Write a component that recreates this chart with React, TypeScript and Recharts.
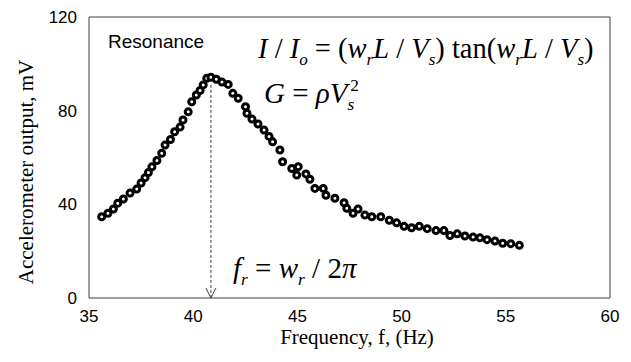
import React from 'react'
import { ReferenceArea, ReferenceLine, Scatter, ScatterChart, XAxis, YAxis } from 'recharts'

const freq = [
  35.61, 35.91, 36.17, 36.38, 36.65, 36.97, 37.29, 37.5, 37.69, 37.85, 38.02, 38.26, 38.49, 38.65,
  38.91, 39.11, 39.37, 39.51, 39.76, 39.93, 40.15, 40.33, 40.48, 40.65, 40.85, 41.11, 41.38, 41.68,
  41.9, 42.16, 42.51, 42.58, 42.82, 43.11, 43.4, 43.64, 43.81, 44.16, 44.29, 44.73, 44.97, 45.04,
  45.41, 45.6, 45.84, 46.24, 46.37, 46.8, 47.24, 47.37, 47.67, 47.91, 48.24, 48.57, 49.0, 49.41,
  49.76, 50.12, 50.48, 50.85, 51.23, 51.65, 52.03, 52.32, 52.67, 53.04, 53.43, 53.76, 54.1, 54.48,
  54.85, 55.24, 55.65,
]
const mv = [
  34.7, 36.2, 38.0, 40.5, 42.3, 44.8, 46.5, 49.1, 51.4, 53.6, 56.0, 58.7, 61.8, 65.3,
  67.7, 71.0, 73.0, 76.0, 79.5, 83.8, 86.7, 88.6, 91.0, 93.8, 94.3, 93.4, 92.2, 91.2,
  87.4, 85.3, 81.7, 78.9, 76.4, 74.3, 71.7, 69.0, 66.7, 63.2, 58.2, 55.3, 52.5, 56.1,
  53.0, 50.7, 46.8, 46.8, 43.9, 42.6, 40.7, 38.3, 36.2, 38.0, 35.4, 34.7, 34.7, 33.2,
  32.1, 30.6, 30.0, 30.6, 29.6, 28.8, 28.8, 26.7, 27.4, 26.5, 26.0, 25.7, 24.9, 24.3,
  23.4, 23.2, 22.5,
]
const xTicks = [35, 40, 45, 50, 55, 60]
const yTicks = [0, 40, 80, 120]
const resonanceF = 40.85
const arrowTop = 91

const data = freq.map((f, i) => ({ f, v: mv[i] }))

const serif = '"Liberation Serif", "Times New Roman", serif'
const sans = '"Liberation Sans", Arial, sans-serif'

type Seg = { t: string; i?: boolean; sub?: boolean; sup?: boolean; dx?: number }

// builds one line of equation text, shifting baseline for sub/superscripts
const Eq = ({ x, y, size, segs }: { x: number; y: number; size: number; segs: Seg[] }) => {
  let shift = 0
  return (
    <text x={x} y={y} fontFamily={serif} fontSize={size} fill="#000" style={{ whiteSpace: 'pre' }}>
      {segs.map((s, k) => {
        const target = s.sub ? size * 0.25 : s.sup ? -size * 0.42 : 0
        const dy = target - shift
        shift = target
        return (
          <tspan key={k} dy={dy} dx={s.dx} fontStyle={s.i ? 'italic' : 'normal'} fontSize={s.sub || s.sup ? size * 0.6 : size}>
            {s.t}
          </tspan>
        )
      })}
    </text>
  )
}

const Dot = (p: any) => <circle cx={p.cx} cy={p.cy} r={3} fill="#fff" stroke="#000" strokeWidth={3} />

const Arrow = (p: any) => {
  const { x1, y1, x2, y2 } = p
  return (
    <g>
      <line x1={x1} y1={y1} x2={x2} y2={y2} stroke="#404040" strokeWidth={1} strokeDasharray="3 2" />
      <path d={`M${x2 - 5},${y2 - 10} L${x2},${y2} L${x2 + 5},${y2 - 10}`} fill="none" stroke="#404040" strokeWidth={1} />
    </g>
  )
}

export default function App() {
  return (
    <div style={{ position: 'absolute', left: 0, top: 0, width: 631, height: 362, background: '#fff' }}>
      <ScatterChart width={631} height={362} margin={{ top: 17, right: 21, left: 0, bottom: 0 }}>
        <XAxis
          type="number"
          dataKey="f"
          domain={[35, 60]}
          ticks={xTicks}
          tickLine={false}
          axisLine={false}
          tickMargin={6}
          height={64}
          tick={{ fill: '#000', fontSize: 17, fontFamily: sans }}
        />
        <YAxis
          type="number"
          dataKey="v"
          domain={[0, 120]}
          ticks={yTicks}
          tickLine={false}
          axisLine={false}
          tickMargin={6}
          width={89}
          tick={{ fill: '#000', fontSize: 17, fontFamily: sans }}
        />
        <ReferenceArea x1={35} x2={60} y1={0} y2={120} fill="none" stroke="#404040" strokeWidth={1} />
        <ReferenceLine
          segment={[{ x: resonanceF, y: arrowTop }, { x: resonanceF, y: 0 }]}
          shape={Arrow}
        />
        <Scatter data={data} shape={Dot} isAnimationActive={false} />
      </ScatterChart>
      <svg width={631} height={362} style={{ position: 'absolute', left: 0, top: 0, pointerEvents: 'none' }}>
        <text x={108} y={48} fontFamily={sans} fontSize={19} fill="#000">Resonance</text>
        <Eq
          x={258}
          y={58}
          size={28.5}
          segs={[
            { t: 'I', i: true }, { t: ' / ' }, { t: 'I', i: true }, { t: 'o', i: true, sub: true },
            { t: ' = (' }, { t: 'w', i: true }, { t: 'r', i: true, sub: true }, { t: 'L', i: true },
            { t: ' / ' }, { t: 'V', i: true }, { t: 's', i: true, sub: true }, { t: ') tan(' },
            { t: 'w', i: true }, { t: 'r', i: true, sub: true }, { t: 'L', i: true }, { t: ' / ' },
            { t: 'V', i: true }, { t: 's', i: true, sub: true }, { t: ')' },
          ]}
        />
        <Eq
          x={264}
          y={103}
          size={29}
          segs={[
            { t: 'G', i: true }, { t: ' = ' }, { t: 'ρ', i: true }, { t: 'V', i: true },
            { t: 's', i: true, sub: true }, { t: '2', sup: true, dx: -4 },
          ]}
        />
        <Eq
          x={233}
          y={278}
          size={29}
          segs={[
            { t: 'f', i: true }, { t: 'r', i: true, sub: true }, { t: ' = ' }, { t: 'w', i: true },
            { t: 'r', i: true, sub: true }, { t: ' / 2' }, { t: 'π', i: true },
          ]}
        />
        <text x={357} y={344} textAnchor="middle" fontFamily={serif} fontSize={21} fill="#000">
          Frequency, f, (Hz)
        </text>
        <text
          transform="translate(33,172) rotate(-90)"
          textAnchor="middle"
          fontFamily={serif}
          fontSize={21}
          fill="#000"
        >
          Accelerometer output, mV
        </text>
      </svg>
    </div>
  )
}
